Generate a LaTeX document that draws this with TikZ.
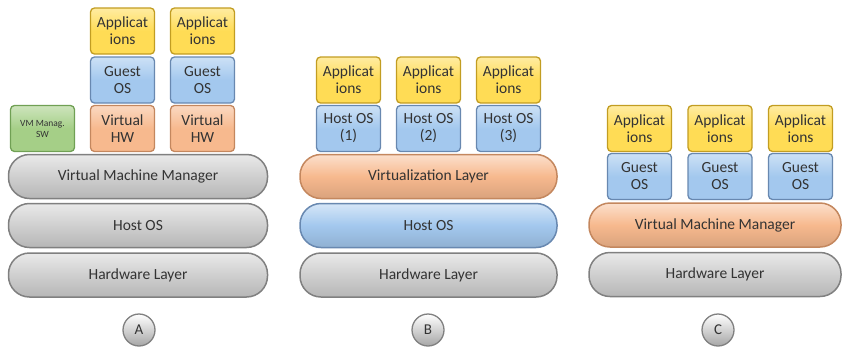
\documentclass[tikz,border=0pt]{standalone}
\usepackage{fontspec}
\setmainfont{Carlito}
\usetikzlibrary{calc}
\definecolor{AppFill}{HTML}{FFDC55}
\definecolor{AppLine}{HTML}{C29D22}
\definecolor{OsFill}{HTML}{A3C8EE}
\definecolor{OsLine}{HTML}{6888B0}
\definecolor{HwFill}{HTML}{F7B98E}
\definecolor{HwLine}{HTML}{C4875E}
\definecolor{SwFill}{HTML}{A5CF87}
\definecolor{SwLine}{HTML}{70A054}
\definecolor{GreyFill}{HTML}{CFCFCF}
\definecolor{GreyLine}{HTML}{808080}
\definecolor{LabelText}{HTML}{333333}
\newcommand{\boxw}{64pt}
\newcommand{\boxh}{46pt}
\newcommand{\pillh}{44pt}
\newcommand{\pillr}{21pt}
\newcommand{\pillwa}{259pt}
\newcommand{\pillwb}{257pt}
\newcommand{\pillwc}{252pt}

\begin{document}
\begin{tikzpicture}[x=1pt,y=-1pt,
    font=\fontsize{15.5}{17}\selectfont,
    layerbox/.style={draw=#1Line, line width=1.3pt, rounded corners=4pt,
      top color=#1Fill!55!white, bottom color=#1Fill, middle color=#1Fill,
      minimum width=\boxw, minimum height=\boxh, inner sep=1pt,
      align=center, text=LabelText},
    pill/.style={draw=#1Line, line width=1.5pt, rounded corners=\pillr,
      top color=#1Fill!45!white, bottom color=#1Fill!88!black, middle color=#1Fill,
      minimum height=\pillh, text=LabelText},
    tag/.style={circle, draw=GreyLine, line width=1.3pt,
      top color=white, bottom color=GreyFill!80!black,
      minimum size=32pt, inner sep=0pt, text=LabelText, font=\fontsize{15}{16}\selectfont}]
  \useasboundingbox (0,0) rectangle (842,349);

  % panel A
  \node[pill=Grey, minimum width=\pillwa] (hwA) at (138,275) {Hardware Layer};
  \node[pill=Grey, minimum width=\pillwa] (hostA) at (138,225.5) {Host OS};
  \node[pill=Grey, minimum width=\pillwa] (vmmA) at (138,176.5) {Virtual Machine Manager};
  \node[layerbox=Sw, font=\fontsize{9.5}{11}\selectfont] (swA) at (42.5,128.5) {VM Manag.\\SW};
  \foreach \cx [count=\i] in {122.5,202.5} {
    \node[layerbox=Hw] (vhwA\i) at (\cx,128.5) {Virtual\\HW};
    \node[layerbox=Os] (guestA\i) at (\cx,80) {Guest\\OS};
    \node[layerbox=App] (appA\i) at (\cx,31) {Applicat\\ions};
  }
  \node[tag] (tagA) at (139,330) {A};

  % panel B
  \node[pill=Grey, minimum width=\pillwb] (hwB) at (428.5,275) {Hardware Layer};
  \node[pill=Os, minimum width=\pillwb] (hostB) at (428.5,225.5) {Host OS};
  \node[pill=Hw, minimum width=\pillwb] (virtB) at (428.5,176.5) {Virtualization Layer};
  \foreach \cx [count=\i] in {348.5,428.5,508.5} {
    \node[layerbox=Os] (hostosB\i) at (\cx,128.5) {Host OS\\(\i)};
    \node[layerbox=App] (appB\i) at (\cx,80) {Applicat\\ions};
  }
  \node[tag] (tagB) at (428,330) {B};

  % panel C
  \node[pill=Grey, minimum width=\pillwc] (hwC) at (715,274.5) {Hardware Layer};
  \node[pill=Hw, minimum width=\pillwc] (vmmC) at (715,225) {Virtual Machine Manager};
  \foreach \cx [count=\i] in {639.5,720,800.5} {
    \node[layerbox=Os] (guestC\i) at (\cx,176.5) {Guest\\OS};
    \node[layerbox=App] (appC\i) at (\cx,128.5) {Applicat\\ions};
  }
  \node[tag] (tagC) at (718,330) {C};
\end{tikzpicture}
\end{document}
